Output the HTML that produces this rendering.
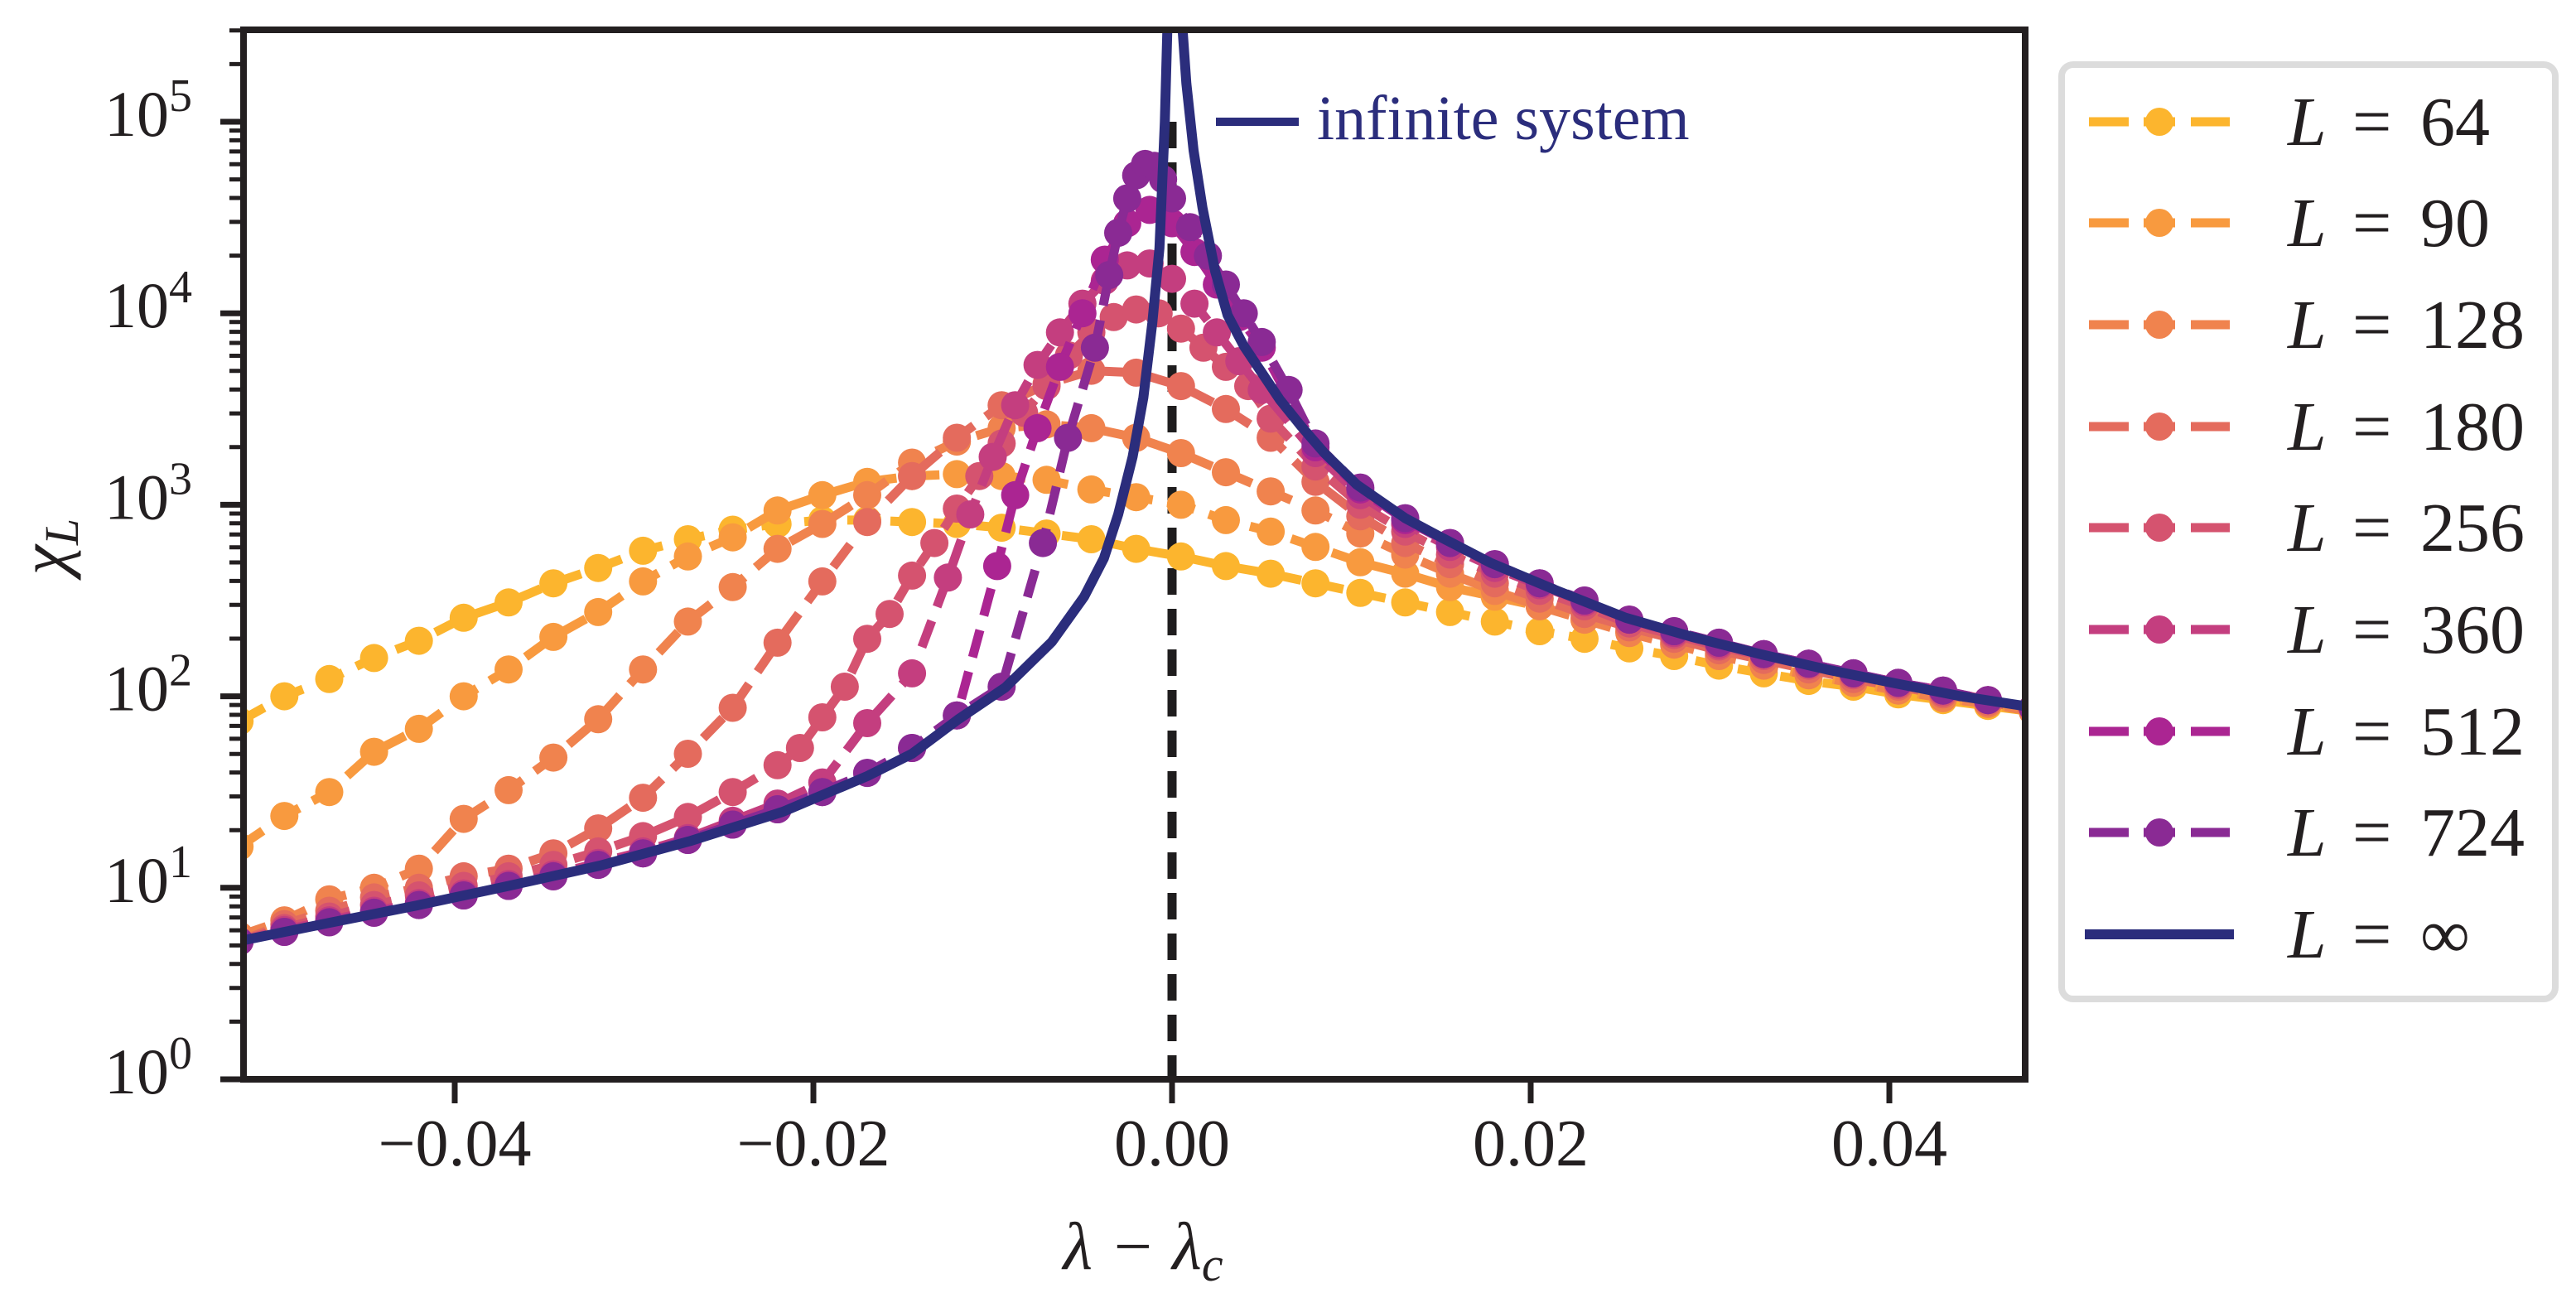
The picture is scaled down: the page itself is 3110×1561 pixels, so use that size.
<!DOCTYPE html>
<html><head><meta charset="utf-8"><style>
html,body{margin:0;padding:0;background:#fff;}
svg{display:block;font-family:"Liberation Serif","DejaVu Serif",serif;}
</style></head><body>
<svg id="chart" width="3110" height="1561" viewBox="0 0 3110 1561" xmlns="http://www.w3.org/2000/svg">
<rect width="3110" height="1561" fill="#fff"/>
<defs><clipPath id="plotclip"><rect x="294" y="36" width="2151" height="1267"/></clipPath></defs>
<g id="series" clip-path="url(#plotclip)"></g>
<g id="axes"></g>
<g id="legend"></g>
</svg>
<script>
// ---- data (chi values given as log10(chi)) ----
const lambdaGrid = [-0.052,-0.0495,-0.047,-0.0445,-0.042,-0.0395,-0.037,-0.0345,-0.032,-0.0295,-0.027,-0.0245,-0.022,-0.0195,-0.017,-0.0145,-0.012,-0.0095,-0.007,-0.0045,-0.002,0.0005,0.003,0.0055,0.008,0.0105,0.013,0.0155,0.018,0.0205,0.023,0.0255,0.028,0.0305,0.033,0.0355,0.038,0.0405,0.043,0.0455,0.048];
const logChiL64 = [1.87,2.0,2.09,2.20,2.29,2.41,2.49,2.59,2.67,2.76,2.82,2.87,2.90,2.92,2.92,2.91,2.90,2.88,2.85,2.82,2.77,2.73,2.68,2.64,2.59,2.54,2.49,2.44,2.39,2.34,2.30,2.25,2.21,2.16,2.12,2.08,2.05,2.01,1.98,1.95,1.92];
const logChiL90 = [1.215,1.375,1.50,1.71,1.83,2.0,2.14,2.31,2.44,2.60,2.73,2.83,2.97,3.05,3.12,3.15,3.16,3.15,3.13,3.08,3.04,3.0,2.92,2.86,2.78,2.70,2.64,2.57,2.52,2.47,2.40,2.34,2.28,2.22,2.16,2.11,2.07,2.03,1.99,1.96,1.92];
const logChiL128 = [0.75,0.83,0.94,1.0,1.10,1.36,1.51,1.68,1.88,2.14,2.39,2.57,2.77,2.90,3.05,3.22,3.33,3.40,3.42,3.40,3.35,3.27,3.17,3.07,2.97,2.85,2.74,2.64,2.55,2.47,2.40,2.33,2.27,2.21,2.16,2.11,2.07,2.03,1.99,1.96,1.92];
const logChiL180 = [0.72,0.81,0.88,0.95,1.0,1.06,1.10,1.18,1.31,1.47,1.70,1.94,2.28,2.60,2.91,3.15,3.35,3.52,3.63,3.70,3.69,3.62,3.50,3.35,3.12,2.94,2.80,2.69,2.59,2.51,2.43,2.36,2.30,2.24,2.19,2.14,2.09,2.05,2.01,1.97,1.93];

const lambdaL256 = [-0.052,-0.0495,-0.047,-0.0445,-0.042,-0.0395,-0.037,-0.0345,-0.032,-0.0295,-0.027,-0.0245,-0.022,-0.02075,-0.0195,-0.01825,-0.017,-0.01575,-0.0145,-0.01325,-0.012,-0.01075,-0.0095,-0.00825,-0.007,-0.00575,-0.0045,-0.00325,-0.002,-0.00075,0.0005,0.00175,0.003,0.00425,0.0055,0.008,0.0105,0.013,0.0155,0.018,0.0205,0.023,0.0255,0.028,0.0305,0.033,0.0355,0.038,0.0405,0.043,0.0455,0.048];
const logChiL256 = [0.72,0.79,0.85,0.91,0.96,1.01,1.06,1.12,1.19,1.27,1.37,1.50,1.64,1.73,1.89,2.05,2.30,2.43,2.63,2.80,2.98,3.15,3.32,3.48,3.62,3.78,3.90,3.98,4.02,4.0,3.92,3.82,3.72,3.62,3.45,3.20,3.0,2.86,2.74,2.64,2.55,2.47,2.38,2.32,2.26,2.21,2.16,2.11,2.06,2.02,1.98,1.94];
const lambdaL360 = [-0.052,-0.0495,-0.047,-0.0445,-0.042,-0.0395,-0.037,-0.0345,-0.032,-0.0295,-0.027,-0.0245,-0.022,-0.0195,-0.017,-0.0145,-0.0125,-0.01125,-0.01,-0.00875,-0.0075,-0.00625,-0.005,-0.00375,-0.0025,-0.00125,0,0.00125,0.0025,0.00375,0.005,0.008,0.0105,0.013,0.0155,0.018,0.0205,0.023,0.0255,0.028,0.0305,0.033,0.0355,0.038,0.0405,0.043,0.0455,0.048];
const logChiL360 = [0.72,0.78,0.83,0.88,0.92,0.97,1.02,1.07,1.13,1.19,1.26,1.35,1.44,1.55,1.86,2.12,2.62,2.95,3.25,3.52,3.73,3.90,4.05,4.17,4.25,4.26,4.18,4.05,3.90,3.75,3.60,3.27,3.05,2.90,2.78,2.67,2.58,2.49,2.40,2.33,2.27,2.22,2.17,2.12,2.07,2.03,1.98,1.94];
const lambdaL512 = [-0.052,-0.0495,-0.047,-0.0445,-0.042,-0.0395,-0.037,-0.0345,-0.032,-0.0295,-0.027,-0.0245,-0.022,-0.0195,-0.017,-0.0145,-0.012,-0.00975,-0.00875,-0.0075,-0.00625,-0.005,-0.00375,-0.0025,-0.00125,0,0.00125,0.0025,0.00375,0.005,0.008,0.0105,0.013,0.0155,0.018,0.0205,0.023,0.0255,0.028,0.0305,0.033,0.0355,0.038,0.0405,0.043,0.0455,0.048];
const logChiL512 = [0.72,0.77,0.82,0.87,0.91,0.96,1.01,1.06,1.12,1.18,1.25,1.33,1.41,1.50,1.60,1.73,1.90,2.68,3.05,3.40,3.72,4.00,4.28,4.47,4.54,4.47,4.32,4.15,3.98,3.82,3.30,3.08,2.92,2.80,2.69,2.59,2.50,2.40,2.34,2.28,2.22,2.17,2.12,2.07,2.03,1.98,1.94];
const lambdaL724 = [-0.052,-0.0495,-0.047,-0.0445,-0.042,-0.0395,-0.037,-0.0345,-0.032,-0.0295,-0.027,-0.0245,-0.022,-0.0195,-0.017,-0.0145,-0.012,-0.0095,-0.0072,-0.0058,-0.0043,-0.0035,-0.003,-0.0025,-0.002,-0.0015,-0.001,-0.0005,0,0.001,0.002,0.003,0.004,0.005,0.0065,0.008,0.0105,0.013,0.0155,0.018,0.0205,0.023,0.0255,0.028,0.0305,0.033,0.0355,0.038,0.0405,0.043,0.0455,0.048];
const logChiL724 = [0.72,0.77,0.82,0.87,0.91,0.96,1.01,1.06,1.12,1.18,1.25,1.33,1.41,1.50,1.60,1.73,1.90,2.05,2.80,3.35,3.82,4.2,4.42,4.60,4.72,4.78,4.77,4.70,4.60,4.45,4.30,4.15,4.00,3.85,3.60,3.32,3.09,2.93,2.80,2.69,2.59,2.50,2.40,2.34,2.28,2.22,2.17,2.12,2.07,2.03,1.98,1.94];

const lambdaInfLeft = [-0.0522,-0.0472,-0.0421,-0.0371,-0.0319,-0.0268,-0.0217,-0.017,-0.0145,-0.0119,-0.0093,-0.0067,-0.0049,-0.0038,-0.003,-0.0022,-0.0016,-0.0011,-0.0007,-0.0004,-0.0002];
const logChiInfLeft = [0.718,0.813,0.908,1.008,1.116,1.246,1.397,1.583,1.70,1.881,2.046,2.284,2.52,2.72,2.95,3.25,3.56,3.95,4.34,5.0,5.7];
const lambdaInfRight = [0.0005,0.0008,0.0012,0.0017,0.0024,0.0031,0.0040,0.0050,0.0060,0.0072,0.0085,0.0103,0.0130,0.0150,0.0178,0.0215,0.0253,0.029,0.0328,0.0365,0.0402,0.044,0.0482];
const logChiInfRight = [5.6,5.2,4.85,4.55,4.22,3.99,3.83,3.69,3.55,3.41,3.27,3.105,2.93,2.83,2.695,2.55,2.41,2.31,2.22,2.14,2.07,2.00,1.94];

const seriesLabels = ["64","90","128","180","256","360","512","724"];
const seriesColors = ["#fcb52e","#f89a3f","#f0834e","#e46b5d","#d5536f","#c43e7f","#ab2592","#8a2a94"];
const xTickValues = [-0.04,-0.02,0,0.02,0.04];
const xTickLabels = ["\u22120.04","\u22120.02","0.00","0.02","0.04"];
const yTickExponents = [0,1,2,3,4,5];

// ---- scales ----
const X0 = 1415, XS = 21650, YB = 1303, YD = 231.2;
function xpx(v){ return X0 + v*XS; }
function ypx(lg){ return YB - lg*YD; }
const NS = "http://www.w3.org/2000/svg";
function mk(tag, attrs, parent){ const e=document.createElementNS(NS,tag); for(const k in attrs) e.setAttribute(k, attrs[k]); parent.appendChild(e); return e; }

const gS = document.getElementById('series');
const gA = document.getElementById('axes');
const gL = document.getElementById('legend');

const seriesX = [lambdaGrid,lambdaGrid,lambdaGrid,lambdaGrid,lambdaL256,lambdaL360,lambdaL512,lambdaL724];
const seriesY = [logChiL64,logChiL90,logChiL128,logChiL180,logChiL256,logChiL360,logChiL512,logChiL724];

const vline = mk('line',{x1:xpx(0),x2:xpx(0),y1:ypx(5),y2:YB,stroke:'#1f1d1e','stroke-width':11,'stroke-dasharray':'32 17'},gS);



for(let s=0;s<seriesX.length;s++){
  const g = mk('g',{},gS);
  
  
  const xs=seriesX[s], ys=seriesY[s];
  let d='';
  for(let i=0;i<xs.length;i++){ d += (i?'L':'M')+xpx(xs[i]).toFixed(1)+','+ypx(ys[i]).toFixed(1); }
  const p = mk('path',{d:d,fill:'none',stroke:seriesColors[s],'stroke-width':11,'stroke-dasharray':'34 18','stroke-linejoin':'round'},g);
  
  
  for(let i=0;i<xs.length;i++){
    const c = mk('circle',{cx:xpx(xs[i]).toFixed(1),cy:ypx(ys[i]).toFixed(1),r:17,fill:seriesColors[s]},g);
    
    
  }
}
function linePath(xs,ys){ let d=''; for(let i=0;i<xs.length;i++){ d+=(i?'L':'M')+xpx(xs[i]).toFixed(1)+','+ypx(ys[i]).toFixed(1);} return d; }
const infL = mk('path',{d:linePath(lambdaInfLeft,logChiInfLeft),fill:'none',stroke:'#2b2d7c','stroke-width':12,'stroke-linejoin':'round'},gS);


const infR = mk('path',{d:linePath(lambdaInfRight,logChiInfRight),fill:'none',stroke:'#2b2d7c','stroke-width':12,'stroke-linejoin':'round'},gS);



const annL = mk('line',{x1:1468,x2:1568,y1:147,y2:147,stroke:'#2b2d7c','stroke-width':10},gA);


const annT = mk('text',{x:1590,y:168,'font-size':76,fill:'#2b2d7c'},gA);
annT.textContent='infinite system';



const frame = mk('rect',{x:294,y:36,width:2151,height:1267,fill:'none',stroke:'#231f20','stroke-width':8},gA);



for(const e of yTickExponents){
  const t = mk('line',{x1:266,x2:294,y1:ypx(e),y2:ypx(e),stroke:'#231f20','stroke-width':7},gA);
  
  
  const lab = mk('text',{x:232,y:ypx(e)+17,'text-anchor':'end','font-size':78,fill:'#231f20'},gA);
  
  
  lab.appendChild(document.createTextNode('10'));
  const sup = mk('tspan',{dy:-30,'font-size':56},lab);
  sup.textContent = String(e);
  for(let m=2;m<=9;m++){
    const lg = e+Math.log10(m);
    if(ypx(lg) < 36) continue;
    const mt = mk('line',{x1:277,x2:294,y1:ypx(lg),y2:ypx(lg),stroke:'#231f20','stroke-width':5},gA);
    
    
  }
}
for(let i=0;i<xTickValues.length;i++){
  const x = xpx(xTickValues[i]);
  const t = mk('line',{x1:x,x2:x,y1:1303,y2:1332,stroke:'#231f20','stroke-width':7},gA);
  
  
  const lab = mk('text',{x:x,y:1407,'text-anchor':'middle','font-size':80,fill:'#231f20'},gA);
  lab.textContent = xTickLabels[i];
  
  
}
const xt = mk('text',{x:1380,y:1532,'text-anchor':'middle','font-size':82,fill:'#231f20','font-style':'italic'},gA);


xt.appendChild(document.createTextNode('\u03bb \u2212 \u03bb'));
const xsub = mk('tspan',{dy:14,'font-size':58},xt); xsub.textContent='c';
const yt = mk('text',{x:0,y:0,'text-anchor':'middle','font-size':82,fill:'#231f20','font-style':'italic',transform:'translate(80,660) rotate(-90)'},gA);


yt.appendChild(document.createTextNode('\u03c7'));
const ysub = mk('tspan',{dy:14,'font-size':58},yt); ysub.textContent='L';

const box = mk('rect',{x:2489,y:78,width:596,height:1128,rx:14,fill:'#fff',stroke:'#dcdcdc','stroke-width':8},gL);


const rowY = [147,269,392,515,637,760,883,1005,1128];
for(let s=0;s<9;s++){
  const g = mk('g',{},gL);
  
  
  const y=rowY[s];
  if(s<8){
    const c=seriesColors[s];
    mk('line',{x1:2522,x2:2570,y1:y,y2:y,stroke:c,'stroke-width':11},g);
    mk('line',{x1:2588,x2:2626,y1:y,y2:y,stroke:c,'stroke-width':11},g);
    mk('line',{x1:2645,x2:2692,y1:y,y2:y,stroke:c,'stroke-width':11},g);
    mk('circle',{cx:2607,cy:y,r:17,fill:c},g);
  } else {
    mk('line',{x1:2517,x2:2697,y1:y,y2:y,stroke:'#2b2d7c','stroke-width':12},g);
  }
  const tl = mk('text',{x:2762,y:y+28,'font-size':84,fill:'#231f20','font-style':'italic'},g);
  tl.textContent='L';
  const te = mk('text',{x:2840,y:y+28,'font-size':84,fill:'#231f20'},g);
  te.textContent='=';
  const tn = mk('text',{x:2922,y:y+28,'font-size':84,fill:'#231f20'},g);
  tn.textContent = (s<8?seriesLabels[s]:'\u221e');
}
</script>
</body></html>
